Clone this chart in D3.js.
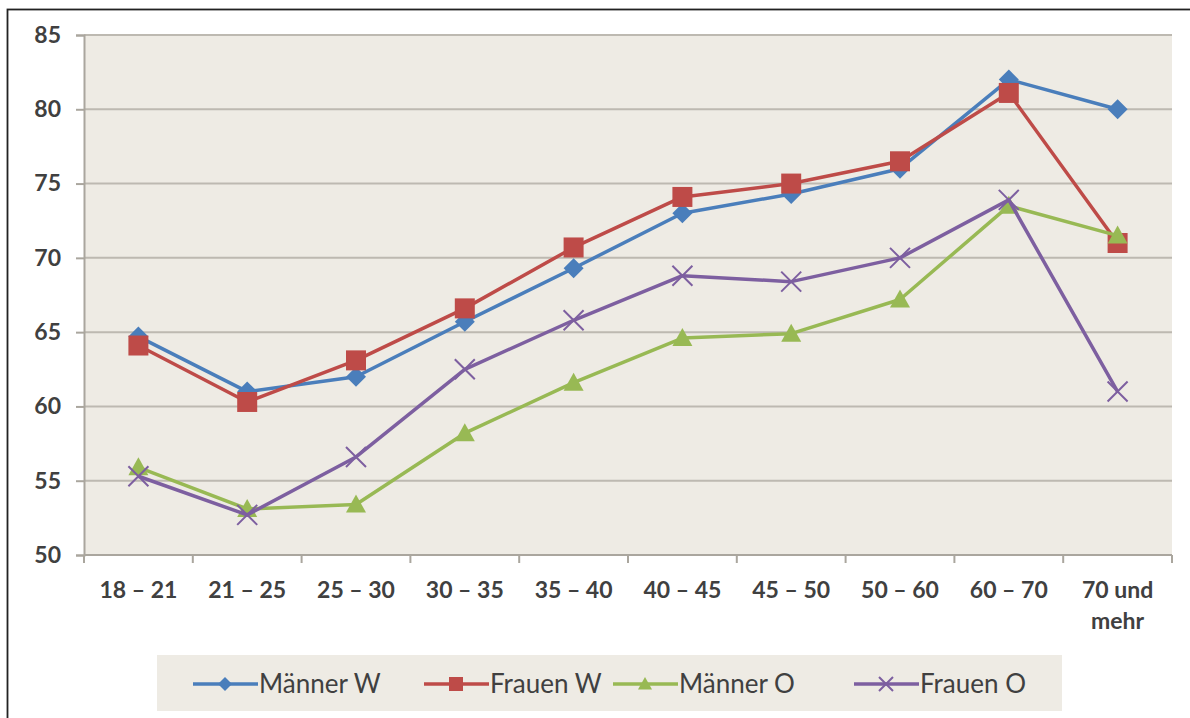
<!DOCTYPE html>
<html>
<head>
<meta charset="utf-8">
<script src="https://cdn.jsdelivr.net/npm/d3@7"></script>
<style>
  html, body { margin: 0; padding: 0; background: #fff; }
  svg { display: block; }
  text { font-family: Lato, "Open Sans", "DejaVu Sans", sans-serif; }
</style>
</head>
<body>
<svg id="chart" width="1190" height="718"></svg>
<script>
// Age groups on the x axis
const categories = ["18 – 21", "21 – 25", "25 – 30", "30 – 35", "35 – 40",
                    "40 – 45", "45 – 50", "50 – 60", "60 – 70", "70 und mehr"];

// One value per age group for each series
const maennerW = [64.7, 61.0, 62.0, 65.7, 69.3, 73.0, 74.3, 76.0, 82.0, 80.0];
const frauenW  = [64.1, 60.3, 63.1, 66.6, 70.7, 74.1, 75.0, 76.5, 81.1, 71.0];
const maennerO = [55.9, 53.1, 53.4, 58.2, 61.6, 64.6, 64.9, 67.2, 73.5, 71.5];
const frauenO  = [55.3, 52.7, 56.6, 62.5, 65.8, 68.8, 68.4, 70.0, 73.9, 61.0];

const yTicks = [50, 55, 60, 65, 70, 75, 80, 85];

const seriesNames = ["Männer W", "Frauen W", "Männer O", "Frauen O"];
const seriesValues = [maennerW, frauenW, maennerO, frauenO];
const seriesColors = ["#4a7ebb", "#be4b48", "#98b954", "#7d5fa0"];
const seriesMarkers = ["diamond", "square", "triangle", "cross"];

const svg = d3.select("#chart");

// Outer frame (runs off the right and bottom of the page)
svg.append("rect")
  .attr("x", 7.5).attr("y", 9.5)
  .attr("width", 1200).attr("height", 720)
  .attr("fill", "none").attr("stroke", "#222").attr("stroke-width", 1.8);

const plot = { left: 84, right: 1172, top: 35, bottom: 555 };

const x = d3.scaleBand()
  .domain(categories)
  .range([plot.left, plot.right])
  .paddingInner(0).paddingOuter(0);

const y = d3.scaleLinear()
  .domain([50, 85])
  .range([plot.bottom, plot.top]);

// Plot background
svg.append("rect")
  .attr("x", plot.left).attr("y", plot.top)
  .attr("width", plot.right - plot.left).attr("height", plot.bottom - plot.top)
  .attr("fill", "#eeebe4");

// Horizontal gridlines
svg.append("g")
  .selectAll("line")
  .data(yTicks.filter(t => t !== 50))
  .join("line")
  .attr("x1", plot.left).attr("x2", plot.right)
  .attr("y1", d => y(d)).attr("y2", d => y(d))
  .attr("stroke", "#bdb9b1").attr("stroke-width", 2);

const labelColor = "#404040";

// Y axis
const yAxis = svg.append("g")
  .attr("transform", `translate(${plot.left},0)`)
  .call(d3.axisLeft(y).tickValues(yTicks).tickSize(8).tickPadding(15).tickFormat(d3.format("d")));
yAxis.select(".domain").attr("stroke", "#aaa69e").attr("stroke-width", 2);
yAxis.selectAll(".tick line").attr("stroke", "#aaa69e").attr("stroke-width", 2);
yAxis.selectAll(".tick text")
  .attr("fill", labelColor).attr("font-size", 23).attr("font-weight", "bold")
  .style("font-family", "Lato, sans-serif");

// X axis baseline and ticks at the band boundaries
const xg = svg.append("g");
xg.append("line")
  .attr("x1", plot.left).attr("x2", plot.right)
  .attr("y1", plot.bottom).attr("y2", plot.bottom)
  .attr("stroke", "#aaa69e").attr("stroke-width", 2);
const boundaries = categories.map(c => x(c)).concat([x(categories[categories.length - 1]) + x.bandwidth()]);
xg.selectAll("line.tk")
  .data(boundaries)
  .join("line")
  .attr("class", "tk")
  .attr("x1", d => d).attr("x2", d => d)
  .attr("y1", plot.bottom).attr("y2", plot.bottom + 8)
  .attr("stroke", "#aaa69e").attr("stroke-width", 2);

// X labels (last one wraps onto two lines)
const xl = xg.selectAll("text.lbl")
  .data(categories)
  .join("text")
  .attr("class", "lbl")
  .attr("x", d => x(d) + x.bandwidth() / 2)
  .attr("y", 598)
  .attr("text-anchor", "middle")
  .attr("fill", labelColor).attr("font-size", 23).attr("font-weight", "bold");
xl.each(function(d) {
  const t = d3.select(this);
  if (d === "70 und mehr") {
    t.append("tspan").attr("x", x(d) + x.bandwidth() / 2).text("70 und");
    t.append("tspan").attr("x", x(d) + x.bandwidth() / 2).attr("dy", 31).text("mehr");
  } else {
    t.text(d);
  }
});

// Marker shapes
function markerPath(type, s) {
  if (type === "diamond") return `M0,${-s}L${s},0L0,${s}L${-s},0Z`;
  if (type === "square") return `M${-s},${-s}H${s}V${s}H${-s}Z`;
  if (type === "triangle") return `M0,${-s}L${s},${s * 0.8}L${-s},${s * 0.8}Z`;
  return `M${-s},${-s}L${s},${s}M${-s},${s}L${s},${-s}`;
}
const markerSize = { diamond: 10, square: 10, triangle: 10, cross: 10 };

function drawMarker(g, type, color, cx, cy, scale) {
  const s = markerSize[type] * (scale || 1);
  const p = g.append("path")
    .attr("transform", `translate(${cx},${cy})`)
    .attr("d", markerPath(type, s));
  if (type === "cross") {
    p.attr("fill", "none").attr("stroke", color).attr("stroke-width", 2);
  } else {
    p.attr("fill", color).attr("stroke", "none");
  }
}

const line = d3.line()
  .x((d, i) => x(categories[i]) + x.bandwidth() / 2)
  .y(d => y(d));

// Series lines and markers
seriesValues.forEach((vals, si) => {
  const g = svg.append("g");
  g.append("path")
    .datum(vals)
    .attr("d", line)
    .attr("fill", "none")
    .attr("stroke", seriesColors[si])
    .attr("stroke-width", 3.5)
    .attr("stroke-linejoin", "round");
  vals.forEach((v, i) => {
    drawMarker(g, seriesMarkers[si], seriesColors[si],
      x(categories[i]) + x.bandwidth() / 2, y(v));
  });
});

// Legend
const legend = svg.append("g");
legend.append("rect")
  .attr("x", 157).attr("y", 655).attr("width", 905).attr("height", 56)
  .attr("fill", "#eeebe4");
const legendX = [193, 424, 613, 854];
seriesNames.forEach((name, si) => {
  const lx = legendX[si], ly = 684;
  legend.append("line")
    .attr("x1", lx).attr("x2", lx + 65)
    .attr("y1", ly).attr("y2", ly)
    .attr("stroke", seriesColors[si]).attr("stroke-width", 3.5);
  drawMarker(legend, seriesMarkers[si], seriesColors[si], lx + 32, ly, 0.7);
  legend.append("text")
    .attr("x", lx + 66).attr("y", ly + 9)
    .attr("fill", labelColor).attr("font-size", 26)
    .text(name);
});
</script>
</body>
</html>
